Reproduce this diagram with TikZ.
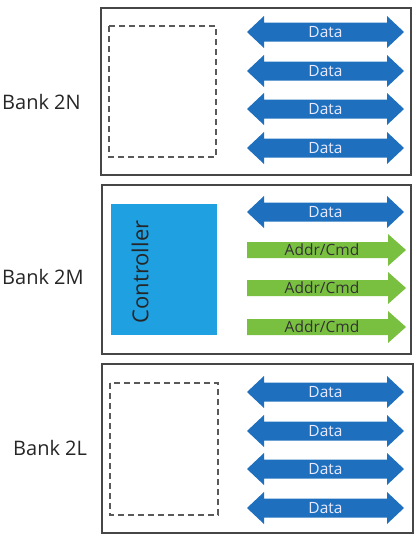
\documentclass[tikz,border=0pt]{standalone}
\usepackage{fontspec}
\setmainfont{Open Sans}
\definecolor{datablue}{RGB}{30,112,190}
\definecolor{ctrlblue}{RGB}{30,160,225}
\definecolor{cmdgreen}{RGB}{122,192,64}
\definecolor{boxgray}{RGB}{70,70,70}
\tikzset{
  bankbox/.style={draw=boxgray, line width=1.3pt},
  dashbox/.style={draw=boxgray!90, line width=1.8pt, dash pattern=on 6pt off 4pt},
  banklabel/.style={font=\fontsize{20}{23}\selectfont, text=black!85, inner sep=0pt},
  datatext/.style={font=\fontsize{15.5}{17}\selectfont, text=white!92!blue, inner sep=0pt},
  cmdtext/.style={font=\fontsize{15.5}{17}\selectfont, text=black!80, inner sep=0pt},
}
\newcommand\dataarrow[2]{%
  \fill[datablue] (247,#2) -- (264,{#2-16}) -- (264,{#2-9.5}) -- (387,{#2-9.5}) -- (387,{#2-16})
    -- (404,#2) -- (387,{#2+16}) -- (387,{#2+9.5}) -- (264,{#2+9.5}) -- (264,{#2+16}) -- cycle;
  \node[datatext] (#1) at (325.5,#2) {Data};}
\newcommand\cmdarrow[2]{%
  \fill[cmdgreen] (247,{#2-8}) -- (388,{#2-8}) -- (388,{#2-16}) -- (406,#2)
    -- (388,{#2+16}) -- (388,{#2+8}) -- (247,{#2+8}) -- cycle;
  \node[cmdtext] (#1) at (322,#2) {Addr/Cmd};}
\begin{document}
\begin{tikzpicture}[x=1pt,y=-1pt]
\useasboundingbox (0,0) rectangle (415,558);
% Bank 2N
\draw[bankbox] (101,8) rectangle (411,175);
\draw[dashbox] (109,26) rectangle (216,157);
\dataarrow{n1}{32}
\dataarrow{n2}{71}
\dataarrow{n3}{109}
\dataarrow{n4}{148}
\node[banklabel, anchor=west] (l2n) at (2,102) {Bank 2N};
% Bank 2M
\draw[bankbox] (102,185) rectangle (411,354);
\fill[ctrlblue] (111,204) rectangle (217,335);
\node[font=\fontsize{22}{25}\selectfont, text=black!85, rotate=90, inner sep=0pt] (ctrl) at (140,272) {Controller};
\dataarrow{m1}{212}
\cmdarrow{m2}{250}
\cmdarrow{m3}{288}
\cmdarrow{m4}{327}
\node[banklabel, anchor=west] (l2m) at (2,277) {Bank 2M};
% Bank 2L
\draw[bankbox] (102,364) rectangle (413,533);
\draw[dashbox] (110,383) rectangle (218,515);
\dataarrow{l1}{392}
\dataarrow{l2}{431}
\dataarrow{l3}{469}
\dataarrow{l4}{508}
\node[banklabel, anchor=west] (l2l) at (13,448) {Bank 2L};
\end{tikzpicture}
\end{document}
